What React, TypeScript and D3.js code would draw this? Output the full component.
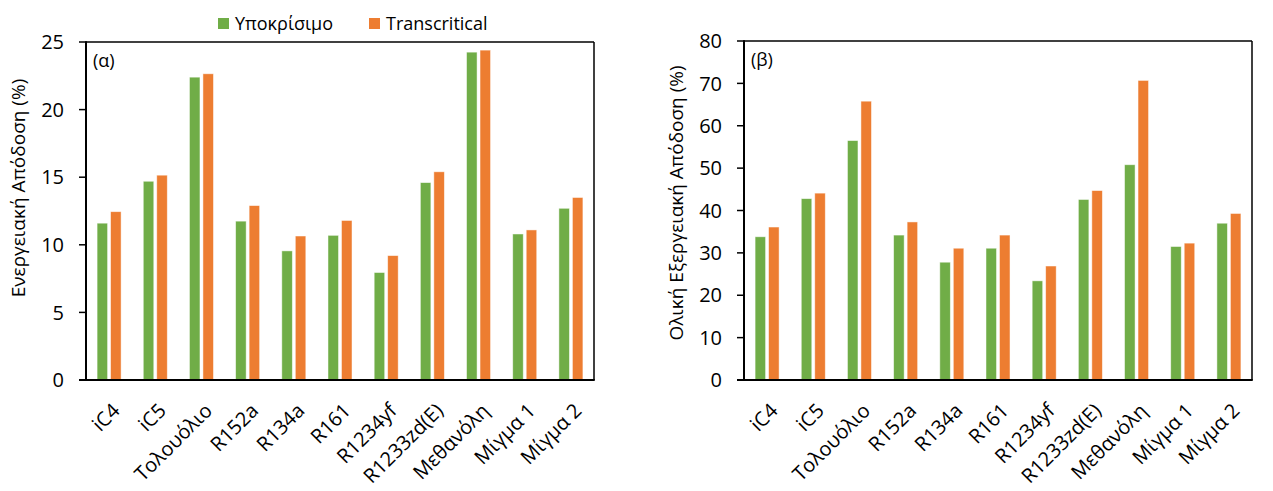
import React from "react";
import * as d3 from "d3";

const categories = ["iC4", "iC5", "Τολουόλιο", "R152a", "R134a", "R161", "R1234yf", "R1233zd(E)", "Μεθανόλη", "Μίγμα 1", "Μίγμα 2"];
const seriesNames = ["Υποκρίσιμο", "Transcritical"];
const energySub = [11.6, 14.7, 22.4, 11.75, 9.55, 10.7, 7.95, 14.6, 24.25, 10.8, 12.7];
const energyTrans = [12.45, 15.15, 22.65, 12.9, 10.65, 11.8, 9.2, 15.4, 24.4, 11.1, 13.5];
const exergySub = [33.8, 42.8, 56.5, 34.2, 27.8, 31.1, 23.4, 42.6, 50.8, 31.5, 37.0];
const exergyTrans = [36.1, 44.1, 65.8, 37.3, 31.1, 34.2, 26.9, 44.7, 70.7, 32.3, 39.3];
const energyTicks = [0, 5, 10, 15, 20, 25];
const exergyTicks = [0, 10, 20, 30, 40, 50, 60, 70, 80];
const colors = ["#70AD47", "#ED7D31"];

const FONT = "'Open Sans', 'Noto Sans', sans-serif";

type PanelProps = {
  left: number;
  right: number;
  top: number;
  bottom: number;
  max: number;
  ticks: number[];
  sub: number[];
  trans: number[];
  title: string;
  titleX: number;
  titleY: number;
  tag: string;
};

function Panel({ left, right, top, bottom, max, ticks, sub, trans, title, titleX, titleY, tag }: PanelProps) {
  const x0 = d3.scaleBand<string>().domain(categories).range([left, right]).paddingInner(0.48).paddingOuter(0.24);
  const x1 = d3.scaleBand<string>().domain(seriesNames).range([0, x0.bandwidth()]).paddingInner(0.22);
  const y = d3.scaleLinear().domain([0, max]).range([bottom, top]);
  const data = [sub, trans];
  return (
    <g>
      {categories.map((c, i) => (
        <g key={c} transform={`translate(${x0(c)},0)`}>
          {seriesNames.map((s, j) => (
            <rect
              key={s}
              x={x1(s)}
              y={y(data[j][i])}
              width={x1.bandwidth()}
              height={bottom - y(data[j][i])}
              fill={colors[j]}
              stroke="#ffffff"
              strokeOpacity={0.6}
              strokeWidth={0.8}
            />
          ))}
        </g>
      ))}
      {/* frame */}
      <line x1={left} x2={right} y1={top} y2={top} stroke="#000" strokeWidth={1.5} />
      <line x1={right} x2={right} y1={top} y2={bottom} stroke="#000" strokeWidth={1.5} />
      {/* y axis */}
      <line x1={left} x2={left} y1={top - 0.75} y2={bottom} stroke="#000" strokeWidth={2} />
      {ticks.map((t) => (
        <g key={t}>
          <line x1={left - 7} x2={left} y1={y(t)} y2={y(t)} stroke="#000" strokeWidth={1.5} />
          <text x={left - 22} y={y(t)} dy="0.36em" textAnchor="end" fontSize={20} fontFamily={FONT} fill="#000">
            {t}
          </text>
        </g>
      ))}
      {/* x axis */}
      <line x1={left - 7} x2={right + 0.75} y1={bottom} y2={bottom} stroke="#000" strokeWidth={2} />
      {categories.map((c) => {
        const cx = (x0(c) as number) + x0.bandwidth() / 2;
        return (
          <text
            key={c}
            transform={`translate(${cx + 7},${bottom + 27}) rotate(-45)`}
            textAnchor="end"
            dy="0.35em"
            fontSize={20}
            fontFamily={FONT}
            fill="#000"
          >
            {c}
          </text>
        );
      })}
      <text
        transform={`translate(${titleX},${titleY}) rotate(-90)`}
        textAnchor="middle"
        fontSize={19}
        fontFamily={FONT}
        fill="#000"
      >
        {title}
      </text>
      <text x={left + 7} y={top + 25} fontSize={18} fontFamily={FONT} fill="#000">
        {tag}
      </text>
    </g>
  );
}

export default function App() {
  return (
    <svg
      width={1273}
      height={491}
      style={{ position: "absolute", left: 0, top: 0, background: "#fff" }}
    >
      <rect width={1273} height={491} fill="#fff" />
      <Panel
        left={86}
        right={594}
        top={42}
        bottom={380}
        max={25}
        ticks={energyTicks}
        sub={energySub}
        trans={energyTrans}
        title="Ενεργειακή Απόδοση (%)"
        titleX={25}
        titleY={188}
        tag="(α)"
      />
      <Panel
        left={744}
        right={1252}
        top={41}
        bottom={380}
        max={80}
        ticks={exergyTicks}
        sub={exergySub}
        trans={exergyTrans}
        title="Ολική Εξεργειακή Απόδοση (%)"
        titleX={683}
        titleY={203}
        tag="(β)"
      />
      {seriesNames.map((s, j) => {
        const lx = j === 0 ? 218 : 369;
        return (
          <g key={s}>
            <rect x={lx} y={18} width={11} height={11} fill={colors[j]} />
            <text x={lx + 17} y={30} fontSize={18} fontFamily={FONT} fill="#000">
              {s}
            </text>
          </g>
        );
      })}
    </svg>
  );
}
